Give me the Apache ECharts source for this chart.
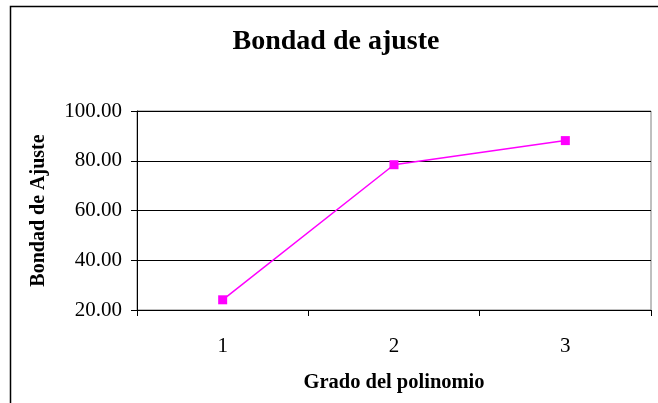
<!DOCTYPE html>
<html>
<head>
<meta charset="utf-8">
<script src="https://cdn.jsdelivr.net/npm/echarts@6/dist/echarts.min.js"></script>
<style>html,body{margin:0;padding:0;background:#fff;}#c{width:658px;height:403px;}</style>
</head>
<body>
<div id="c"></div>
<script>
const categories = ['1', '2', '3'];
const bondadValues = [24.1, 78.4, 88.1];
const yTicks = { min: 20, max: 100, interval: 20 };

const chart = echarts.init(document.getElementById('c'), null, { renderer: 'canvas' });
const serif = '"Liberation Serif", "Times New Roman", serif';
chart.setOption({
  animation: false,
  backgroundColor: '#fff',
  title: {
    text: 'Bondad de ajuste',
    left: 331, top: 23, textAlign: 'center',
    textStyle: { fontFamily: serif, fontWeight: 'bold', fontSize: 28, color: '#000' }
  },
  graphic: [{
    type: 'rect', left: 8, top: 4, silent: true,
    shape: { x: 0, y: 0, width: 700, height: 398 },
    style: { fill: null, stroke: '#000', lineWidth: 1.5 }
  }],
  grid: { left: 137, right: 7, top: 111, bottom: 93, show: true, borderColor: '#808080', borderWidth: 1, backgroundColor: 'transparent' },
  xAxis: {
    type: 'category', data: categories, boundaryGap: true,
    name: 'Grado del polinomio', nameLocation: 'middle', nameGap: 62,
    nameTextStyle: { fontFamily: serif, fontWeight: 'bold', fontSize: 20.5, color: '#000' },
    axisLine: { lineStyle: { color: '#000', width: 1 } },
    axisTick: { show: true, inside: false, length: 6, lineStyle: { color: '#000' } },
    axisLabel: { fontFamily: serif, fontSize: 21, color: '#000', margin: 26 },
    splitLine: { show: false }
  },
  yAxis: {
    type: 'value', min: yTicks.min, max: yTicks.max, interval: yTicks.interval,
    name: 'Bondad de Ajuste', nameLocation: 'middle', nameGap: 88, nameRotate: 90,
    nameTextStyle: { fontFamily: serif, fontWeight: 'bold', fontSize: 20, color: '#000' },
    axisLine: { show: true, lineStyle: { color: '#000', width: 1 } },
    axisTick: { show: true, inside: false, length: 6, lineStyle: { color: '#000' } },
    axisLabel: { fontFamily: serif, fontSize: 21, color: '#000', margin: 15, formatter: v => v.toFixed(2) },
    splitLine: { show: true, lineStyle: { color: '#000', width: 1 } }
  },
  series: [{
    type: 'line', data: bondadValues,
    symbol: 'rect', symbolSize: 9, showAllSymbol: true,
    lineStyle: { color: '#FF00FF', width: 1.5 },
    itemStyle: { color: '#FF00FF', borderWidth: 0 }
  }]
});
</script>
</body>
</html>
